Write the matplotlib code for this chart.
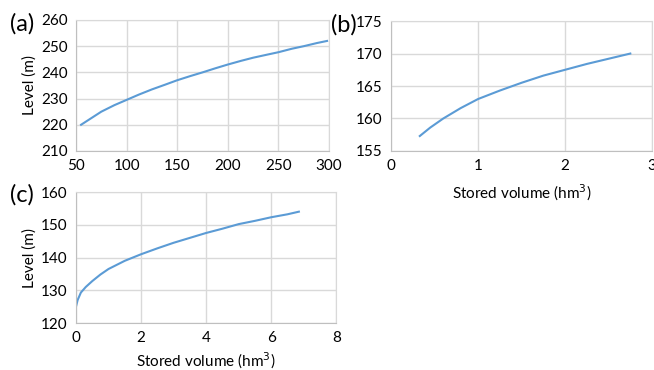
import matplotlib.pyplot as plt

plt.rcParams['font.family'] = ['Lato', 'DejaVu Sans']

# Data
vol_a = [55, 65, 75, 88, 100, 112, 125, 138, 150, 163, 175, 188, 200, 213, 225, 238, 250, 263, 275, 288, 298]
lev_a = [220, 222.5, 225, 227.5, 229.5, 231.5, 233.5, 235.3, 237, 238.6, 240, 241.6, 243, 244.4, 245.6, 246.7, 247.7, 249, 250, 251.2, 252]

vol_b = [0.33, 0.45, 0.6, 0.8, 1.0, 1.25, 1.5, 1.75, 2.0, 2.25, 2.5, 2.75]
lev_b = [157.3, 158.6, 160.0, 161.6, 163.0, 164.3, 165.5, 166.6, 167.5, 168.4, 169.2, 170.0]

vol_c = [0.0, 0.05, 0.15, 0.3, 0.5, 0.75, 1.0, 1.5, 2.0, 2.5, 3.0, 3.5, 4.0, 4.5, 5.0, 5.5, 6.0, 6.5, 6.85]
lev_c = [125.0, 127.0, 129.3, 131.0, 132.8, 134.8, 136.5, 139.0, 141.0, 142.8, 144.5, 146.0, 147.5, 148.8, 150.2, 151.2, 152.3, 153.2, 154.0]

line_color = '#5B9BD5'
grid_color = '#D9D9D9'

fig = plt.figure(figsize=(6.54, 3.70), dpi=100)
ax_a = fig.add_axes([0.1162, 0.592, 0.387, 0.354])
ax_b = fig.add_axes([0.598, 0.592, 0.399, 0.351])
ax_c = fig.add_axes([0.1162, 0.127, 0.398, 0.354])


def style(ax):
    ax.grid(True, color=grid_color, linewidth=1)
    ax.set_axisbelow(True)
    for s in ax.spines.values():
        s.set_color(grid_color)
    ax.spines['left'].set_color('#BFBFBF')
    ax.spines['bottom'].set_color('#BFBFBF')
    ax.tick_params(length=0, labelsize=11, labelcolor='black', pad=6)


ax_a.plot(vol_a, lev_a, color=line_color, linewidth=1.5)
ax_a.set_xlim(50, 300)
ax_a.set_ylim(210, 260)
ax_a.set_xticks([50, 100, 150, 200, 250, 300])
ax_a.set_yticks([210, 220, 230, 240, 250, 260])
ax_a.set_ylabel('Level (m)', fontsize=11, labelpad=3)
style(ax_a)

ax_b.plot(vol_b, lev_b, color=line_color, linewidth=1.5)
ax_b.set_xlim(0, 3)
ax_b.set_ylim(155, 175)
ax_b.set_xticks([0, 1, 2, 3])
ax_b.set_yticks([155, 160, 165, 170, 175])
ax_b.set_xlabel('Stored volume (hm$^3$)', fontsize=11, labelpad=7)
style(ax_b)

ax_c.plot(vol_c, lev_c, color=line_color, linewidth=1.5)
ax_c.set_xlim(0, 8)
ax_c.set_ylim(120, 160)
ax_c.set_xticks([0, 2, 4, 6, 8])
ax_c.set_yticks([120, 130, 140, 150, 160])
ax_c.set_xlabel('Stored volume (hm$^3$)', fontsize=11, labelpad=4)
ax_c.set_ylabel('Level (m)', fontsize=11, labelpad=3)
style(ax_c)

fig.text(0.016, 0.935, '(a)', fontsize=17, va='center', ha='left')
fig.text(0.506, 0.932, '(b)', fontsize=17, va='center', ha='left')
fig.text(0.016, 0.473, '(c)', fontsize=17, va='center', ha='left')

fig.savefig('out.png', dpi=100)
